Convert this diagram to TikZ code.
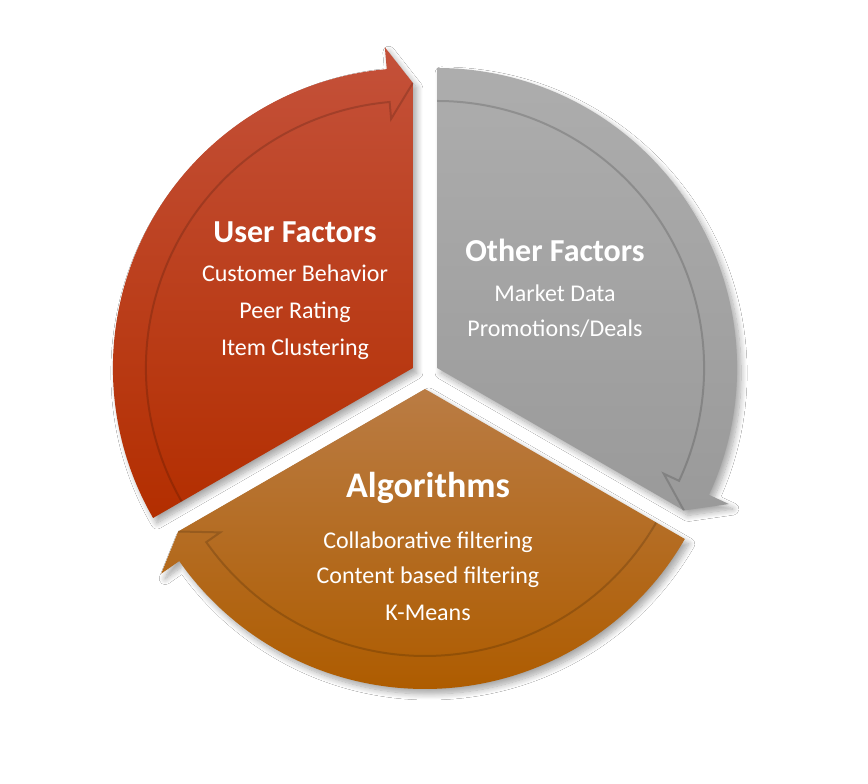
\documentclass[tikz,border=0pt]{standalone}
\usepackage{fontspec}
\setmainfont{Carlito}
\usetikzlibrary{shadows.blur}

\definecolor{redtop}{HTML}{C4513A}
\definecolor{redbot}{HTML}{B32E00}
\definecolor{greytop}{HTML}{ADADAD}
\definecolor{greybot}{HTML}{9A9A9A}
\definecolor{orangetop}{HTML}{BA7C44}
\definecolor{orangebot}{HTML}{AE5C00}

\begin{document}
\begin{tikzpicture}[x=1pt,y=1pt,node distance=37pt,
        seg/.style={blur shadow={shadow xshift=4pt,shadow yshift=-5pt,
                    shadow blur steps=10,shadow blur radius=6pt,shadow opacity=35}},
        band/.style={draw=black,draw opacity=0.16,line width=2pt},
        title/.style={text=white,text height=0.75em,text depth=0.25em,
                      font=\bfseries\fontsize{32}{36}\selectfont},
        item/.style={text=white,text height=0.75em,text depth=0.25em,
                     font=\fontsize{24}{26}\selectfont}]

        \useasboundingbox[fill=white] (0,0) rectangle (868,784);

        \coordinate (R) at (412.9,416);
        \coordinate (G) at (437.1,416);
        \coordinate (O) at (425,395);

        % user factors
        \begin{scope}[shift={(R)}]
                \path[seg,top color=redtop,bottom color=redbot]
                        (0,0) -- (210:300) arc[start angle=210,end angle=95,radius=300]
                        -- (95:322) -- (90:285) -- cycle;
                \draw[band] (90:285) -- (95:250) -- (95:267)
                        arc[start angle=95,end angle=210,radius=267];
        \end{scope}

        % other factors
        \begin{scope}[shift={(G)}]
                \path[seg,top color=greytop,bottom color=greybot]
                        (0,0) -- (90:300) arc[start angle=90,end angle=-25,radius=300]
                        -- (-25:322) -- (-30:285) -- cycle;
                \draw[band] (-30:285) -- (-25:250) -- (-25:267)
                        arc[start angle=-25,end angle=90,radius=267];
        \end{scope}

        % algorithms
        \begin{scope}[shift={(O)}]
                \path[seg,top color=orangetop,bottom color=orangebot]
                        (0,0) -- (330:300) arc[start angle=330,end angle=215,radius=300]
                        -- (215:322) -- (210:285) -- cycle;
                \draw[band] (210:285) -- (215:250) -- (215:267)
                        arc[start angle=215,end angle=330,radius=267];
        \end{scope}

        \node[title] (UF)  at (295,544)                 {User Factors};
        \node[item]  (UF1) [below of=UF,yshift=-2pt]    {Customer Behavior};
        \node[item]  (UF2) [below of=UF1]               {Peer Rating};
        \node[item]  (UF3) [below of=UF2]               {Item Clustering};

        \node[title] (OF)  at (555,525)                 {Other Factors};
        \node[item]  (OF1) [below of=OF,yshift=-3pt]    {Market Data};
        \node[item]  (OF2) [below of=OF1,yshift=2pt]    {Promotions/Deals};

        \node[title,font=\bfseries\fontsize{36}{40}\selectfont]
                     (AL)  at (428,289)                 {Algorithms};
        \node[item]  (AL1) [below of=AL,yshift=-14pt]   {Collaborative filtering};
        \node[item]  (AL2) [below of=AL1,yshift=2pt]    {Content based filtering};
        \node[item]  (AL3) [below of=AL2]               {K-Means};
\end{tikzpicture}
\end{document}
